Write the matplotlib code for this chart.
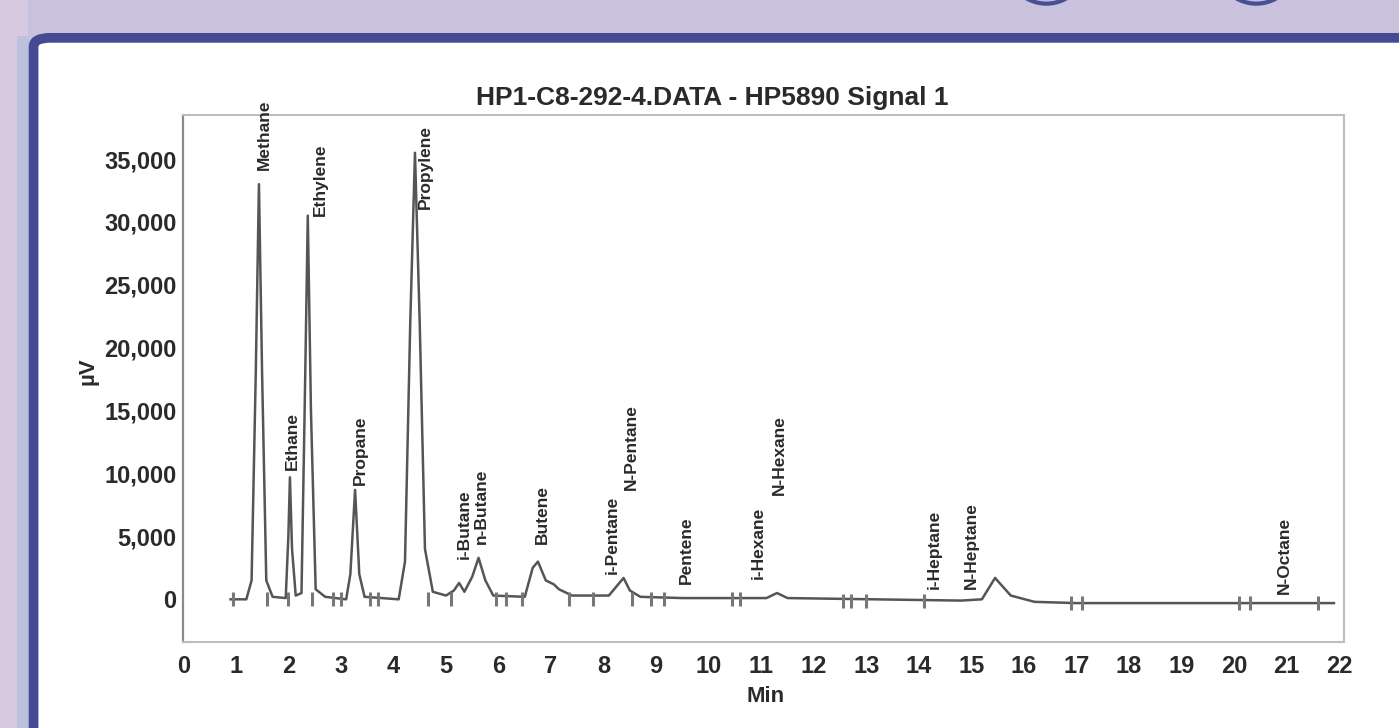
import matplotlib
matplotlib.use("Agg")
import matplotlib.pyplot as plt
from matplotlib.patches import FancyBboxPatch, Rectangle, Ellipse
from matplotlib.ticker import FuncFormatter

# ---- data ----
trace_time = [0.90, 1.20, 1.30, 1.38, 1.44, 1.50, 1.58, 1.70, 1.95, 2.00, 2.03, 2.07, 2.14,
              2.25, 2.31, 2.37, 2.43, 2.52, 2.70, 3.10, 3.18, 3.27, 3.35, 3.45, 4.10, 4.22,
              4.32, 4.41, 4.50, 4.60, 4.75, 5.00, 5.15, 5.25, 5.35, 5.50, 5.62, 5.75, 5.90,
              6.50, 6.65, 6.75, 6.90, 7.05, 7.15, 7.40, 8.10, 8.30, 8.38, 8.50, 8.70, 9.50,
              11.10, 11.30, 11.50, 14.80, 15.20, 15.45, 15.75, 16.20, 17.00, 21.90]
trace_uv = [0, 0, 1500, 18000, 33000, 18000, 1500, 200, 100, 5000, 9700, 4000, 300,
            500, 15000, 30500, 15000, 800, 200, 0, 2000, 8700, 2000, 200, 0, 3000,
            22000, 35500, 22000, 4000, 600, 300, 700, 1300, 600, 1800, 3300, 1500, 300,
            200, 2500, 3000, 1500, 1200, 800, 300, 300, 1300, 1700, 700, 200, 100,
            100, 500, 100, -100, 0, 1700, 300, -200, -300, -300]

peak_names = ["Methane", "Ethane", "Ethylene", "Propane", "Propylene", "i-Butane", "n-Butane",
              "Butene", "i-Pentane", "N-Pentane", "Pentene", "i-Hexane", "N-Hexane",
              "i-Heptane", "N-Heptane", "N-Octane"]
peak_label_time = [1.54, 2.07, 2.60, 3.37, 4.60, 5.34, 5.68, 6.84, 8.16, 8.52, 9.58, 10.95,
                   11.35, 14.30, 15.00, 20.95]
peak_label_uv = [34100, 10300, 30500, 9100, 31000, 3200, 4400, 4400, 2000, 8700, 1200, 1600,
                 8300, 800, 800, 400]

event_time = [0.95, 1.6, 2.0, 2.45, 2.85, 3.0, 3.55, 3.7, 4.65, 5.1, 5.95, 6.15, 6.45, 7.35,
              7.8, 8.55, 8.9, 9.15, 10.45, 10.6, 12.55, 12.7, 13.0, 14.1, 16.9, 17.1,
              20.1, 20.3, 21.6]
event_uv = [0, 0, 0, 0, 0, 0, 0, 0, 0, 0, 0, 0, 0, 0, 0, 0, 0, 0, 0, 0, -100, -100, -100,
            -100, -300, -300, -300, -300, -300]

x_ticks = list(range(0, 23))
y_ticks = [0, 5000, 10000, 15000, 20000, 25000, 30000, 35000]

title = "HP1-C8-292-4.DATA - HP5890 Signal 1"

plt.rcParams['font.family'] = ['Liberation Sans', 'DejaVu Sans']

fig = plt.figure(figsize=(13.99, 7.28), dpi=100)
fig.patch.set_facecolor("#c9c2dd")

# slide background strips and frame (behind the axes)
fig.patches.append(Rectangle((0, 0), 0.02, 1, transform=fig.transFigure,
                             facecolor="#d6c9e0", edgecolor="none", zorder=-3))
fig.patches.append(Rectangle((0.012, 0), 0.009, 0.95, transform=fig.transFigure,
                             facecolor="#bcc2de", edgecolor="none", zorder=-3))
for cx in [0.748, 0.898]:
    fig.patches.append(Ellipse((cx, 1.055), 0.06, 0.12, transform=fig.transFigure,
                               facecolor="#c0bde0", edgecolor="#4a4f95", lw=3, zorder=-3))
fig.patches.append(FancyBboxPatch((0.024, -0.2), 1.2, 1.148,
                                  boxstyle="round,pad=0,rounding_size=0.012",
                                  transform=fig.transFigure, facecolor="white",
                                  edgecolor="#454b93", lw=7, zorder=-2))

ax = fig.add_axes([0.131, 0.118, 0.830, 0.724])
ax.set_facecolor("none")
ax.plot(trace_time, trace_uv, color="#555555", lw=1.8, solid_joinstyle="round", zorder=3)
ax.plot(event_time, event_uv, linestyle="none", marker="|", markersize=10,
        markeredgewidth=2.2, color="#777777", zorder=3)

for name, t, v in zip(peak_names, peak_label_time, peak_label_uv):
    ax.text(t, v, name, rotation=90, ha="center", va="bottom", fontsize=12.5,
            fontweight="bold", color="#2a2a2a", clip_on=False, zorder=4)

ax.set_xlim(0, 22.1)
ax.set_ylim(-3400, 38500)
ax.set_xticks(x_ticks)
ax.set_yticks(y_ticks)
ax.yaxis.set_major_formatter(FuncFormatter(lambda v, p: f"{int(v):,}"))
ax.tick_params(axis="both", length=0, labelsize=17, labelcolor="#2a2a2a")
ax.tick_params(axis="x", pad=9)
ax.tick_params(axis="y", pad=5)
for lab in ax.get_xticklabels() + ax.get_yticklabels():
    lab.set_fontweight("bold")

for side in ["top", "bottom", "right"]:
    ax.spines[side].set_color("#bdbdbd")
    ax.spines[side].set_linewidth(1.5)
ax.spines["left"].set_color("#8a8a8a")
ax.spines["left"].set_linewidth(1.6)

fig.text(0.509, 0.866, title, ha="center", va="center", fontsize=19,
         fontweight="bold", color="#2a2a2a")
fig.text(0.547, 0.043, "Min", ha="center", va="center", fontsize=16,
         fontweight="bold", color="#2a2a2a")
fig.text(0.063, 0.49, "µV", ha="center", va="center", rotation=90, fontsize=16,
         fontweight="bold", color="#2a2a2a")

fig.savefig("out.png", dpi=100, facecolor=fig.get_facecolor())
